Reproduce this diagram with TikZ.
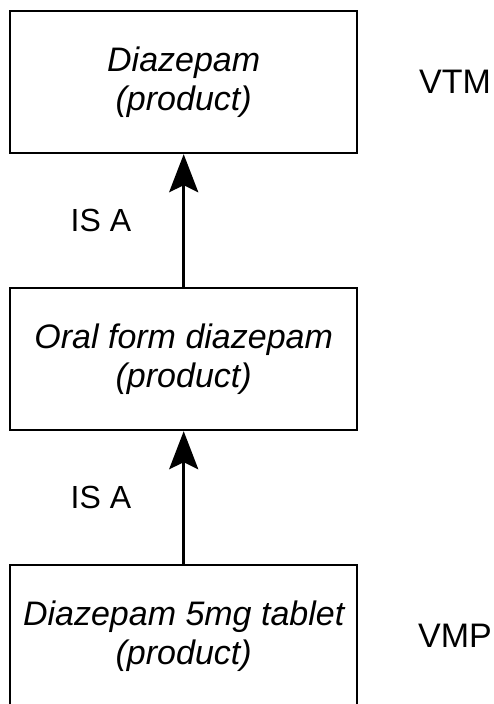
\documentclass[tikz,border=0pt]{standalone}
\usepackage{fontspec}
\setmainfont{Liberation Sans}
\usepackage{tikz}
\usetikzlibrary{matrix,arrows.meta}

\begin{document}
\begin{tikzpicture}[x=1pt,y=1pt,
  concept/.style={draw,line width=2pt,minimum width=347pt,minimum height=142pt,
    align=center,font=\fontsize{34}{39}\selectfont\itshape},
  level/.style={font=\fontsize{34}{39}\selectfont},
  isa/.style={font=\fontsize{32}{38}\selectfont,inner sep=0pt}]
  \useasboundingbox (0,0) rectangle (494,-704);
  \matrix (m) [row sep=133pt,column sep=60pt,inner sep=0pt,
               nodes={anchor=center},anchor=north west] at (9,-10) {
     \node[concept] (vtm) {Diazepam\\(product)}; & \node[level] (vtmlabel) {VTM}; \\
     \node[concept] (oral) {Oral form diazepam\\(product)}; & \\
     \node[concept] (vmp) {Diazepam 5mg tablet\\(product)}; & \node[level] (vmplabel) {VMP}; \\};
  \path[-{Stealth[length=38pt,width=29pt,inset=7pt]},line width=3pt]
    (oral) edge node [isa,midway,left=51pt] {IS A} (vtm)
    (vmp)  edge node [isa,midway,left=51pt] {IS A} (oral);
\end{tikzpicture}
\end{document}
